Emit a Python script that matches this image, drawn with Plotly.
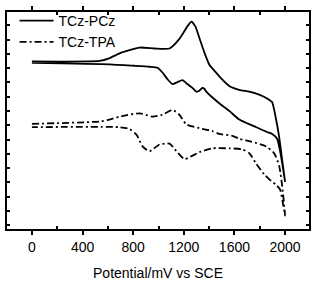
import plotly.graph_objects as go

# Potential (mV vs SCE) and current (arbitrary units)
pcz_potential = [0, 535, 614, 693, 850, 969, 1087, 1165, 1228, 1260, 1291, 1323, 1362, 1402, 1441, 1480,
                 1559, 1638, 1717, 1795, 1858, 1898, 1929, 1953, 1976, 2000,
                 1984, 1961, 1937, 1898, 1858, 1772, 1701, 1638, 1559, 1480, 1417, 1378, 1362, 1346,
                 1323, 1299, 1268, 1228, 1189, 1150, 1110, 1071, 1031, 992, 929, 811, 614, 0]
pcz_current = [174.5, 175, 178, 183, 189, 188, 188, 198, 211, 216, 211, 199, 184, 171, 165, 159,
               149, 145, 143, 140, 136, 132, 114, 96, 73, 49,
               63, 81, 94, 99, 101, 106, 110, 114, 123, 131, 138, 143, 146, 147,
               144, 143, 147, 151, 155, 153, 151, 156, 163, 168, 169, 170, 171.5, 173]

tpa_potential = [0, 535, 614, 693, 850, 953, 1031, 1110, 1165, 1220, 1323, 1425, 1480, 1583, 1638, 1732,
                 1850, 1913, 1953, 1976, 2000,
                 1984, 1961, 1929, 1890, 1835, 1772, 1717, 1661, 1559, 1425, 1323, 1205, 1142, 1087,
                 1008, 929, 874, 827, 772, 693, 0]
tpa_current = [109.5, 112, 114, 117, 120.5, 117, 119, 124, 119, 109, 105, 102, 99, 97, 94, 91,
               86, 79, 66, 46, 14,
               26, 41, 46, 50, 57, 68, 79, 83, 84, 84, 80, 73, 81, 89,
               88, 81, 86, 98, 104, 106, 106]

x_ticks = [0, 400, 800, 1200, 1600, 2000]
x_title = "Potential/mV vs SCE"

font = "Liberation Sans, Arial, sans-serif"

fig = go.Figure()
fig.add_trace(go.Scatter(x=pcz_potential, y=pcz_current, mode="lines", name="TCz-PCz",
                         line=dict(color="black", width=1.8, shape="spline", smoothing=0.5)))
fig.add_trace(go.Scatter(x=tpa_potential, y=tpa_current, mode="lines", name="TCz-TPA",
                         line=dict(color="black", width=1.8, dash="7px,3px,2px,3px",
                                   shape="spline", smoothing=0.6)))

fig.update_layout(
    width=316, height=284,
    margin=dict(l=7, r=6, t=5, b=53),
    paper_bgcolor="white", plot_bgcolor="white",
    font=dict(family=font, size=14, color="black"),
    showlegend=True,
    legend=dict(x=0.025, y=1.032, xanchor="left", yanchor="top", bgcolor="rgba(0,0,0,0)",
                font=dict(size=14), itemwidth=34, tracegroupgap=0),
    xaxis=dict(range=[-197, 2189], tickvals=x_ticks, ticks="outside", ticklen=4, tickwidth=1.5,
               tickcolor="black", showline=True, linecolor="black", linewidth=2, mirror="ticks",
               showgrid=False, zeroline=False,
               minor=dict(dtick=400, tick0=200, ticks="inside", ticklen=3, tickwidth=1.5,
                          tickcolor="black", showgrid=False),
               title=dict(text=x_title, font=dict(size=14), standoff=14)),
    yaxis=dict(range=[0, 226], tick0=4, dtick=14.86, ticks="inside", ticklen=3, tickwidth=1.5,
               tickcolor="black", showticklabels=False, showline=True, linecolor="black",
               linewidth=2, mirror="ticks", showgrid=False, zeroline=False),
)

fig.write_html("out.html", config={"displayModeBar": False},
               post_script="document.body.style.margin='0';document.body.style.padding='0';")
